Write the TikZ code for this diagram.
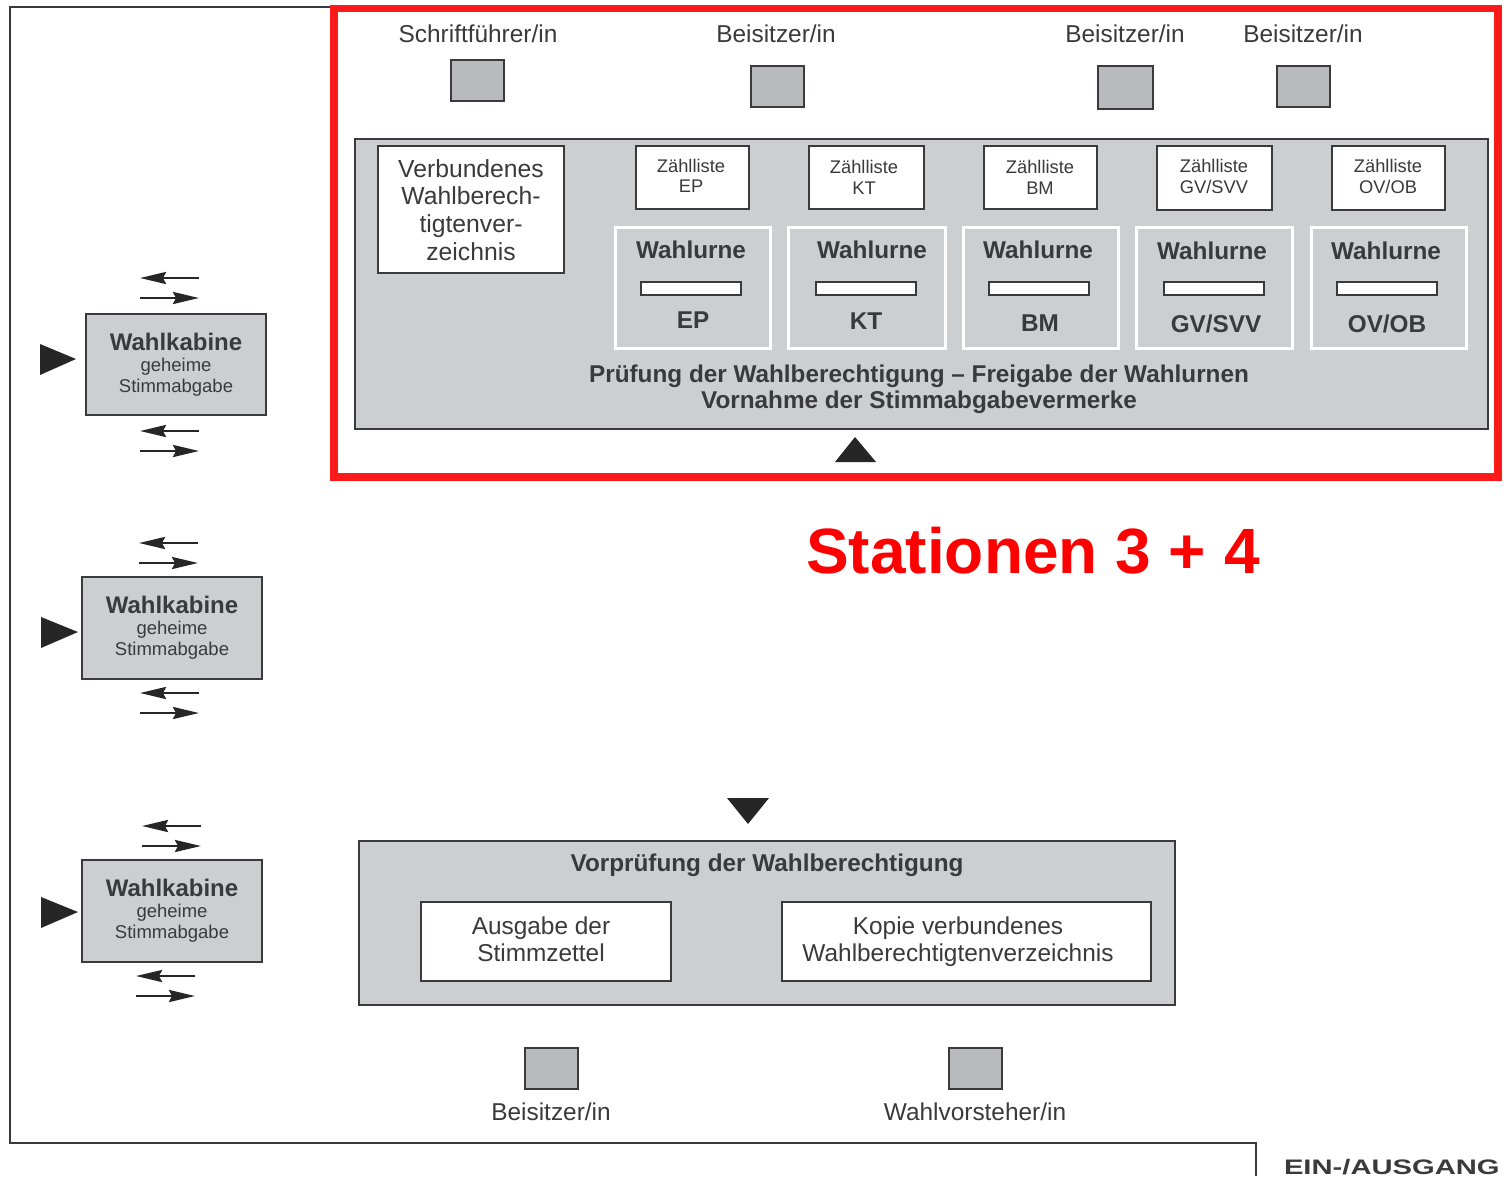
\documentclass[tikz,border=0pt]{standalone}
\usepackage{fontspec}
\setmainfont{Liberation Sans}
\usetikzlibrary{arrows.meta}
\definecolor{panel}{HTML}{CDCED2}
\definecolor{sq}{HTML}{B9BABE}
\definecolor{ink}{HTML}{3A3A3C}
\definecolor{redbox}{HTML}{FF1A1A}
\tikzset{
  txt/.style={inner sep=0pt,outer sep=0pt,text=ink,align=center,font=\fontsize{24.4}{27}\selectfont},
  small/.style={txt,font=\fontsize{18.3}{20}\selectfont},
  bold/.style={txt,font=\bfseries\fontsize{24.3}{27}\selectfont},
  kab/.style={txt,font=\fontsize{18.5}{20}\selectfont},
  flow/.style={draw=black!85,line width=2.6pt,-{Stealth[length=26pt,width=12pt,inset=3pt]}},
  rect/.style={draw=ink,line width=1.2pt},
  gbox/.style={rect,fill=panel},
  wbox/.style={rect,fill=white},
  sbox/.style={rect,fill=sq},
  ubox/.style={draw=white,line width=3pt,fill=panel},
}
\newcommand{\Kabine}[5]{% name, x1, y1, x2, y2
  \draw[gbox] (#2,#3) rectangle (#4,#5);
  \node[bold,font=\bfseries\fontsize{24}{26}\selectfont] (#1t) at ({(#2+#4)/2},#3+28) {Wahlkabine};
  \node[kab] (#1a) at ({(#2+#4)/2},#3+53) {geheime};
  \node[kab] (#1b) at ({(#2+#4)/2},#3+73.5) {Stimmabgabe};
}
\newcommand{\Urne}[8]{% x1,x2,slot cx,wahlurne x,wahlurne y,label x,label y,label
  \draw[ubox] (#1,227) rectangle (#2,348);
  \node[bold] at (#4,#5) {Wahlurne};
  \draw[rect,fill=white] (#3-50,282) rectangle (#3+50,295);
  \node[bold] at (#6,#7) {#8};
}
\newcommand{\Zl}[8]{% x1,y1,x2,y2,cx,y line 1,y line 2,second line
  \draw[wbox] (#1,#2) rectangle (#3,#4);
  \node[small] at (#5,#6) {Zählliste};
  \node[small] at (#5,#7) {#8};
}
\newcommand{\Pair}[4]{% xleft, xright, ytop, ybottom
  \coordinate (pa) at (#2,#3); \coordinate (pb) at (#1,#3);
  \coordinate (pc) at (#1,#4); \coordinate (pd) at (#2,#4);
  \draw[flow] (pa) -- (pb);
  \draw[flow] (pc) -- (pd);
}
\begin{document}
\begin{tikzpicture}[x=1pt,y=-1pt]
\useasboundingbox (0,0) rectangle (1511,1176);
\clip (0,0) rectangle (1511,1176);
\fill[white] (0,0) rectangle (1511,1176);
% outer frame
\coordinate (f1) at (332,7); \coordinate (f2) at (10,7); \coordinate (f3) at (10,1143);
\coordinate (f4) at (1256,1143); \coordinate (f5) at (1256,1176);
\draw[ink,line width=1.3pt] (f1) -- (f2) -- (f3) -- (f4) -- (f5);
% top labels and squares
\node[txt] (l1) at (478,34) {Schriftführer/in};
\node[txt] (l2) at (776,34) {Beisitzer/in};
\node[txt] (l3) at (1125,34) {Beisitzer/in};
\node[txt] (l4) at (1303,34) {Beisitzer/in};
\draw[sbox] (451,60) rectangle (504,101);
\draw[sbox] (751,66) rectangle (804,107);
\draw[sbox] (1098,66) rectangle (1153,109);
\draw[sbox] (1277,66) rectangle (1330,107);
% main panel
\draw[gbox] (355,139) rectangle (1488,429);
\draw[wbox] (378,146) rectangle (564,273);
\node[txt,font=\fontsize{24.7}{27.7}\selectfont] (vw) at (471,210) {Verbundenes\\Wahlberech-\\tigtenver-\\zeichnis};
\Zl{636}{146}{749}{209}{691}{166}{186}{EP}
\Zl{809}{146}{924}{209}{864}{167}{188}{KT}
\Zl{984}{146}{1097}{209}{1040}{167}{188}{BM}
\Zl{1157}{146}{1272}{210}{1214}{166}{187}{GV/SVV}
\Zl{1332}{146}{1445}{210}{1388}{166}{187}{OV/OB}
\Urne{615}{770}{691}{691}{250}{693}{320}{EP}
\Urne{788}{945}{866}{872}{250}{866}{321}{KT}
\Urne{963}{1118}{1039}{1038}{250}{1040}{323}{BM}
\Urne{1136}{1292}{1214}{1212}{251}{1216}{324}{GV/SVV}
\Urne{1311}{1466}{1387}{1386}{251}{1387}{324}{OV/OB}
\node[bold] (p1) at (919,376) {Prüfung der Wahlberechtigung – Freigabe der Wahlurnen};
\node[bold] (p2) at (919,402.5) {Vornahme der Stimmabgabevermerke};
\fill[black!85] (835,462) -- (855,437) -- (876,462) -- cycle;
% red frame
\draw[redbox,line width=7.5pt] (334,8.5) rectangle (1498,477);
\node[inner sep=0pt,text=red,font=\bfseries\fontsize{64}{70}\selectfont] (st) at (1033,551) {Stationen 3 + 4};
% cabins
\Kabine{k1}{86}{314}{266}{415}
\Kabine{k2}{82}{577}{262}{679}
\Kabine{k3}{82}{860}{262}{962}
\fill[black!85] (40,344) -- (76,359) -- (40,375) -- cycle;
\fill[black!85] (41,617) -- (78,632) -- (41,648) -- cycle;
\fill[black!85] (41,897) -- (78,912) -- (41,928) -- cycle;
\Pair{140}{199}{278}{298}
\Pair{140}{199}{431}{451}
\Pair{139}{198}{543}{563}
\Pair{140}{199}{693}{713}
\Pair{142}{201}{826}{846}
\Pair{136}{195}{976}{996}
% lower panel
\fill[black!85] (727,798) -- (769,798) -- (748,824) -- cycle;
\draw[gbox] (359,841) rectangle (1175,1005);
\node[bold] (vp) at (767,865.5) {Vorprüfung der Wahlberechtigung};
\draw[wbox] (421,902) rectangle (671,981);
\node[txt] (az) at (541,939) {Ausgabe der\\Stimmzettel};
\draw[wbox] (782,902) rectangle (1151,981);
\node[txt] (kv) at (958,942) {Kopie verbundenes\\Wahlberechtigtenverzeichnis};
\draw[sbox] (525,1048) rectangle (578,1089);
\draw[sbox] (949,1048) rectangle (1002,1089);
\node[txt] (b5) at (551,1112) {Beisitzer/in};
\node[txt] (b6) at (975,1112) {Wahlvorsteher/in};
\node[bold,anchor=base west,font=\bfseries\fontsize{21}{24}\selectfont] (ea) at (1284,1174.5) {\scalebox{1.39}[1]{EIN-/AUSGANG}};
\end{tikzpicture}
\end{document}
